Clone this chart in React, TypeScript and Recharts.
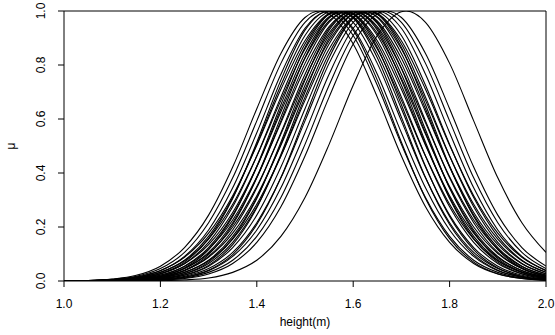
import React from "react";
import { LineChart, Line, XAxis, YAxis, ReferenceLine, Customized } from "recharts";

// x grid (height in m) shared by every membership curve
const heightGrid = [1.0, 1.05, 1.1, 1.15, 1.2, 1.25, 1.3, 1.35, 1.4, 1.45, 1.5, 1.55, 1.6, 1.65, 1.7, 1.75, 1.8, 1.85, 1.9, 1.95, 2.0];

// where each curve reaches mu = 1
const peakHeights = [
  1.53, 1.54, 1.55, 1.55, 1.56, 1.57, 1.58, 1.58, 1.58, 1.59, 1.59, 1.6, 1.6, 1.6, 1.61,
  1.61, 1.61, 1.62, 1.62, 1.63, 1.64, 1.65, 1.66, 1.67, 1.71, 1.57, 1.63, 1.57, 1.63,
];

// membership values, one array per curve, on heightGrid
const m01 = [0.001, 0.002, 0.007, 0.021, 0.055, 0.124, 0.244, 0.422, 0.638, 0.843, 0.976, 0.989, 0.878, 0.681, 0.463, 0.275, 0.143, 0.065, 0.026, 0.009, 0.003];
const m02 = [0, 0.002, 0.006, 0.017, 0.046, 0.106, 0.216, 0.382, 0.593, 0.806, 0.958, 0.997, 0.909, 0.725, 0.506, 0.309, 0.165, 0.077, 0.032, 0.011, 0.004];
const m03 = [0, 0.001, 0.005, 0.014, 0.038, 0.091, 0.189, 0.345, 0.549, 0.766, 0.936, 1, 0.936, 0.766, 0.549, 0.345, 0.189, 0.091, 0.038, 0.014, 0.005];
const m04 = [0, 0, 0.002, 0.009, 0.027, 0.07, 0.157, 0.306, 0.514, 0.744, 0.929, 1, 0.929, 0.744, 0.514, 0.306, 0.157, 0.07, 0.027, 0.009, 0.002];
const m05 = [0, 0.001, 0.004, 0.011, 0.032, 0.077, 0.165, 0.309, 0.506, 0.725, 0.909, 0.997, 0.958, 0.806, 0.593, 0.382, 0.216, 0.106, 0.046, 0.017, 0.006];
const m06 = [0, 0.001, 0.003, 0.009, 0.026, 0.065, 0.143, 0.275, 0.463, 0.681, 0.878, 0.989, 0.976, 0.843, 0.638, 0.422, 0.244, 0.124, 0.055, 0.021, 0.007];
const m07 = [0, 0.001, 0.002, 0.007, 0.021, 0.055, 0.124, 0.244, 0.422, 0.638, 0.843, 0.976, 0.989, 0.878, 0.681, 0.463, 0.275, 0.143, 0.065, 0.026, 0.009];
const m08 = [0, 0.001, 0.004, 0.012, 0.032, 0.075, 0.155, 0.284, 0.463, 0.669, 0.859, 0.979, 0.991, 0.89, 0.71, 0.503, 0.316, 0.177, 0.088, 0.039, 0.015];
const m09 = [0, 0, 0.001, 0.004, 0.014, 0.04, 0.098, 0.209, 0.383, 0.607, 0.827, 0.974, 0.988, 0.865, 0.653, 0.425, 0.239, 0.116, 0.048, 0.017, 0.005];
const m10 = [0, 0, 0.002, 0.006, 0.017, 0.046, 0.106, 0.216, 0.382, 0.593, 0.806, 0.958, 0.997, 0.909, 0.725, 0.506, 0.309, 0.165, 0.077, 0.032, 0.011];
const m11 = [0, 0.001, 0.003, 0.01, 0.027, 0.064, 0.135, 0.254, 0.424, 0.627, 0.825, 0.963, 0.998, 0.918, 0.75, 0.544, 0.35, 0.2, 0.102, 0.046, 0.018];
const m12 = [0, 0, 0.001, 0.005, 0.014, 0.038, 0.091, 0.189, 0.345, 0.549, 0.766, 0.936, 1, 0.936, 0.766, 0.549, 0.345, 0.189, 0.091, 0.038, 0.014];
const m13 = [0, 0, 0, 0.002, 0.009, 0.027, 0.07, 0.157, 0.306, 0.514, 0.744, 0.929, 1, 0.929, 0.744, 0.514, 0.306, 0.157, 0.07, 0.027, 0.009];
const m14 = [0, 0.001, 0.003, 0.008, 0.022, 0.054, 0.118, 0.226, 0.386, 0.586, 0.788, 0.942, 1, 0.942, 0.788, 0.586, 0.386, 0.226, 0.118, 0.054, 0.022];
const m15 = [0, 0, 0.001, 0.004, 0.011, 0.032, 0.077, 0.165, 0.309, 0.506, 0.725, 0.909, 0.997, 0.958, 0.806, 0.593, 0.382, 0.216, 0.106, 0.046, 0.017];
const m16 = [0, 0, 0, 0.002, 0.007, 0.022, 0.058, 0.135, 0.271, 0.469, 0.699, 0.899, 0.997, 0.954, 0.787, 0.56, 0.344, 0.182, 0.083, 0.033, 0.011];
const m17 = [0, 0, 0.002, 0.007, 0.018, 0.046, 0.102, 0.2, 0.35, 0.544, 0.75, 0.918, 0.998, 0.963, 0.825, 0.627, 0.424, 0.254, 0.135, 0.064, 0.027];
const m18 = [0, 0, 0.001, 0.003, 0.009, 0.026, 0.065, 0.143, 0.275, 0.463, 0.681, 0.878, 0.989, 0.976, 0.843, 0.638, 0.422, 0.244, 0.124, 0.055, 0.021];
const m19 = [0, 0, 0.002, 0.005, 0.015, 0.039, 0.088, 0.177, 0.316, 0.503, 0.71, 0.89, 0.991, 0.979, 0.859, 0.669, 0.463, 0.284, 0.155, 0.075, 0.032];
const m20 = [0, 0, 0.001, 0.002, 0.007, 0.021, 0.055, 0.124, 0.244, 0.422, 0.638, 0.843, 0.976, 0.989, 0.878, 0.681, 0.463, 0.275, 0.143, 0.065, 0.026];
const m21 = [0, 0, 0, 0.002, 0.006, 0.017, 0.046, 0.106, 0.216, 0.382, 0.593, 0.806, 0.958, 0.997, 0.909, 0.725, 0.506, 0.309, 0.165, 0.077, 0.032];
const m22 = [0, 0, 0, 0.001, 0.005, 0.014, 0.038, 0.091, 0.189, 0.345, 0.549, 0.766, 0.936, 1, 0.936, 0.766, 0.549, 0.345, 0.189, 0.091, 0.038];
const m23 = [0, 0, 0, 0.001, 0.004, 0.011, 0.032, 0.077, 0.165, 0.309, 0.506, 0.725, 0.909, 0.997, 0.958, 0.806, 0.593, 0.382, 0.216, 0.106, 0.046];
const m24 = [0, 0, 0, 0.001, 0.003, 0.009, 0.026, 0.065, 0.143, 0.275, 0.463, 0.681, 0.878, 0.989, 0.976, 0.843, 0.638, 0.422, 0.244, 0.124, 0.055];
const m25 = [0, 0, 0, 0, 0.001, 0.004, 0.011, 0.032, 0.077, 0.165, 0.309, 0.506, 0.725, 0.909, 0.997, 0.958, 0.806, 0.593, 0.382, 0.216, 0.106];
const m26 = [0, 0.002, 0.005, 0.015, 0.039, 0.088, 0.177, 0.316, 0.503, 0.71, 0.89, 0.991, 0.979, 0.859, 0.669, 0.463, 0.284, 0.155, 0.075, 0.032, 0.012];
const m27 = [0, 0, 0, 0.001, 0.004, 0.014, 0.04, 0.098, 0.209, 0.383, 0.607, 0.827, 0.974, 0.988, 0.865, 0.653, 0.425, 0.239, 0.116, 0.048, 0.017];
const m28 = [0, 0, 0.001, 0.005, 0.017, 0.048, 0.116, 0.239, 0.425, 0.653, 0.865, 0.988, 0.974, 0.827, 0.607, 0.383, 0.209, 0.098, 0.04, 0.014, 0.004];
const m29 = [0, 0, 0.001, 0.004, 0.012, 0.032, 0.075, 0.155, 0.284, 0.463, 0.669, 0.859, 0.979, 0.991, 0.89, 0.71, 0.503, 0.316, 0.177, 0.088, 0.039];

const curves = [
  m01, m02, m03, m04, m05, m06, m07, m08, m09, m10, m11, m12, m13, m14, m15,
  m16, m17, m18, m19, m20, m21, m22, m23, m24, m25, m26, m27, m28, m29,
];

const xTicks = [1.0, 1.2, 1.4, 1.6, 1.8, 2.0];
const yTicks = [0, 0.2, 0.4, 0.6, 0.8, 1.0];

const FONT = "'Liberation Sans', Arial, Helvetica, sans-serif";

// grid points + the peak of each curve
const series = curves.map((vals, i) => {
  const pts = heightGrid.map((x, j) => ({ x, y: vals[j] }));
  const peak = peakHeights[i];
  if (!pts.some((p) => Math.abs(p.x - peak) < 1e-9)) pts.push({ x: peak, y: 1 });
  return pts.sort((a, b) => a.x - b.x);
});

const XTick = (props: any) => {
  const { x, y, payload } = props;
  return (
    <text x={x} y={y + 19} textAnchor="middle" fontSize={12} fontFamily={FONT} fill="#000">
      {Number(payload.value).toFixed(1)}
    </text>
  );
};

const YTick = (props: any) => {
  const { x, y, payload } = props;
  const tx = x - 11;
  return (
    <text x={tx} y={y} transform={`rotate(-90, ${tx}, ${y})`} textAnchor="middle" fontSize={12} fontFamily={FONT} fill="#000">
      {Number(payload.value).toFixed(1)}
    </text>
  );
};

const AxisTitles = () => (
  <g fontFamily={FONT} fontSize={12} fill="#000">
    <text x={305} y={326} textAnchor="middle">height(m)</text>
    <text x={15} y={146} transform="rotate(-90, 15, 146)" textAnchor="middle">μ</text>
  </g>
);

export default function App() {
  return (
    <div style={{ position: "absolute", left: 0, top: 0, background: "#fff" }}>
      <LineChart width={555} height={335} margin={{ top: 11, right: 9, bottom: 24, left: 24 }}>
        <XAxis
          type="number"
          dataKey="x"
          domain={[1, 2]}
          ticks={xTicks}
          allowDataOverflow
          tickSize={6}
          stroke="#000"
          height={30}
          tick={<XTick />}
          interval={0}
        />
        <YAxis
          type="number"
          dataKey="y"
          domain={[0, 1]}
          ticks={yTicks}
          allowDataOverflow
          tickSize={6}
          stroke="#000"
          width={40}
          tick={<YTick />}
          interval={0}
        />
        <ReferenceLine y={1} stroke="#000" strokeWidth={1} />
        <ReferenceLine x={2} stroke="#000" strokeWidth={1} />
        {series.map((d, i) => (
          <Line
            key={i}
            data={d}
            dataKey="y"
            type="monotone"
            stroke="#000"
            strokeWidth={1.1}
            dot={false}
            activeDot={false}
            isAnimationActive={false}
          />
        ))}
        <Customized component={AxisTitles} />
      </LineChart>
    </div>
  );
}
